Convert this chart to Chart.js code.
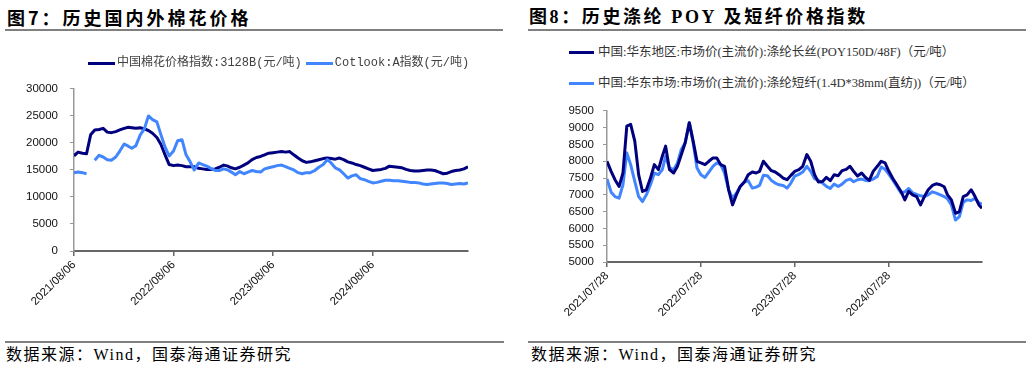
<!DOCTYPE html>
<html><head><meta charset="utf-8">
<script src="https://cdn.jsdelivr.net/npm/chart.js@4.4.1/dist/chart.umd.min.js"></script>
<style>
html,body{margin:0;padding:0;background:#fff;}
body{width:1032px;height:369px;position:relative;overflow:hidden;}
.title{position:absolute;top:5px;font-weight:700;font-size:18px;color:#000;white-space:nowrap;line-height:24px;}
.rule{position:absolute;height:2px;background:#808080;}
.src{position:absolute;top:346px;font-size:16px;letter-spacing:1.5px;color:#000;white-space:nowrap;font-family:"Liberation Serif","Noto Sans CJK SC";line-height:18px;}
canvas{position:absolute;}
.leg{position:absolute;white-space:nowrap;display:flex;align-items:center;height:16px;line-height:16px;}
.legA{font-family:"Liberation Mono","Noto Sans CJK SC";font-size:12px;color:#404040;}
.legB{font-family:"Liberation Serif","Noto Sans CJK SC";font-size:12.5px;color:#333;}
.sw{display:inline-block;height:3px;}
</style></head>
<body>
<div class="title" style="left:7px;font-family:'Noto Sans CJK SC';letter-spacing:3px">图7：历史国内外棉花价格</div>
<div class="rule" style="left:5px;top:29px;width:498px"></div>
<div class="title" style="left:529px;font-family:'Liberation Serif','Noto Sans CJK SC';letter-spacing:2.6px">图8：历史涤纶 POY 及短纤价格指数</div>
<div class="rule" style="left:528px;top:29px;width:498px"></div>
<div class="rule" style="left:5px;top:341px;width:499px"></div>
<div class="rule" style="left:528px;top:341px;width:498px"></div>
<div class="src" style="left:6px">数据来源：Wind，国泰海通证券研究</div>
<div class="src" style="left:531px">数据来源：Wind，国泰海通证券研究</div>
<canvas id="c1" width="516" height="262" style="left:0;top:70px;width:516px;height:262px"></canvas>
<canvas id="c2" width="516" height="240" style="left:516px;top:95px;width:516px;height:240px"></canvas>
<script>
// ---------- Chart 7: cotton ----------
const cottonDates = [
"2021/08/06","2021/08/21","2021/09/06","2021/09/21","2021/10/06","2021/10/21","2021/11/06","2021/11/21","2021/12/06","2021/12/21",
"2022/01/06","2022/01/21","2022/02/06","2022/02/21","2022/03/06","2022/03/21","2022/04/06","2022/04/21","2022/05/06","2022/05/21","2022/06/06","2022/06/21",
"2022/07/06","2022/07/21","2022/08/06","2022/08/21","2022/09/06","2022/09/21","2022/10/06","2022/10/21","2022/11/06","2022/11/21","2022/12/06","2022/12/21",
"2023/01/06","2023/01/21","2023/02/06","2023/02/21","2023/03/06","2023/03/21","2023/04/06","2023/04/21","2023/05/06","2023/05/21","2023/06/06","2023/06/21",
"2023/07/06","2023/07/21","2023/08/06","2023/08/21","2023/09/06","2023/09/21","2023/10/06","2023/10/21","2023/11/06","2023/11/21","2023/12/06","2023/12/21",
"2024/01/06","2024/01/21","2024/02/06","2024/02/21","2024/03/06","2024/03/21","2024/04/06","2024/04/21","2024/05/06","2024/05/21","2024/06/06","2024/06/21",
"2024/07/06","2024/07/21","2024/08/06","2024/08/21","2024/09/06","2024/09/21","2024/10/06","2024/10/21","2024/11/06","2024/11/21","2024/12/06","2024/12/21",
"2025/01/06","2025/01/21","2025/02/06","2025/02/21","2025/03/06","2025/03/21","2025/04/06","2025/04/21","2025/05/06","2025/05/21","2025/06/06","2025/06/21",
"2025/07/06","2025/07/21"];
const cottonChina3128B = [
17600,18300,18100,18000,21500,22400,22500,22700,22000,21900,
22100,22400,22700,22900,22800,22700,22800,22600,22300,21800,
21000,19700,17800,16000,15800,15900,15800,15600,15600,15600,
15300,15200,15100,15100,15200,15500,15900,15700,15400,15200,
15500,15900,16300,16900,17300,17500,17800,18100,18200,18300,
18400,18300,18400,17800,17200,16700,16400,16500,16700,16900,
17100,17200,17100,17000,17200,16900,16500,16300,16000,15800,
15500,15200,14900,15000,15100,15300,15700,15600,15500,15400,
15100,14900,14800,14800,14900,15000,15000,14900,14600,14300,
14400,14700,14900,15000,15200,15600];
const cottonCotlookA = [
14500,14600,14500,14300,null,16800,17700,17400,16900,16800,
17400,18500,19800,19400,19000,19500,21500,22600,25000,24300,
23900,21500,19200,17600,18500,20400,20600,17800,16500,15000,
16300,16000,15700,15300,14900,14900,15200,15000,14600,14100,
14700,14300,14600,14900,14700,14600,15200,15400,15600,15800,
15900,15600,15300,15000,14500,14300,14500,14500,14900,15500,
16000,16900,16300,15400,15000,14300,13500,13900,14100,13400,
13200,12900,12600,12700,12900,13100,13100,13000,13000,12900,
12800,12700,12700,12600,12400,12300,12400,12500,12600,12600,
12500,12300,12400,12500,12400,12600];
const cottonLabels = ["中国棉花价格指数:3128B(元/吨)","Cotlook:A指数(元/吨)"];
const cottonTickLabels = ["2021/08/06","2022/08/06","2023/08/06","2024/08/06"];
const cottonYRange = [0, 30000, 5000];

// ---------- Chart 8: polyester ----------
const polyDates = [
"2021/07/28","2021/08/13","2021/08/28","2021/09/13","2021/09/28","2021/10/13","2021/10/28","2021/11/13","2021/11/28","2021/12/13","2021/12/28",
"2022/01/13","2022/01/28","2022/02/13","2022/02/28","2022/03/13","2022/03/28","2022/04/13","2022/04/28","2022/05/13","2022/05/28","2022/06/13","2022/06/28",
"2022/07/13","2022/07/28","2022/08/13","2022/08/28","2022/09/13","2022/09/28","2022/10/13","2022/10/28","2022/11/13","2022/11/28","2022/12/13","2022/12/28",
"2023/01/13","2023/01/28","2023/02/13","2023/02/28","2023/03/13","2023/03/28","2023/04/13","2023/04/28","2023/05/13","2023/05/28","2023/06/13","2023/06/28",
"2023/07/13","2023/07/28","2023/08/13","2023/08/28","2023/09/13","2023/09/28","2023/10/13","2023/10/28","2023/11/13","2023/11/28","2023/12/13","2023/12/28",
"2024/01/13","2024/01/28","2024/02/13","2024/02/28","2024/03/13","2024/03/28","2024/04/13","2024/04/28","2024/05/13","2024/05/28","2024/06/13","2024/06/28",
"2024/07/13","2024/07/28","2024/08/13","2024/08/28","2024/09/13","2024/09/28","2024/10/13","2024/10/28","2024/11/13","2024/11/28","2024/12/13","2024/12/28",
"2025/01/13","2025/01/28","2025/02/13","2025/02/28","2025/03/13","2025/03/28","2025/04/13","2025/04/28","2025/05/13","2025/05/28","2025/06/13","2025/06/28",
"2025/07/13","2025/07/25"];
const polyPOY = [
8000,7700,7450,7250,7650,9050,9100,8600,7600,7100,7150,
7500,7900,7750,8150,8450,7750,7650,7850,8200,8550,9150,8600,
8000,7950,7900,8000,8100,8100,7900,7850,7150,6700,7000,7250,
7380,7600,7680,7650,7700,8000,7850,7720,7680,7600,7500,7450,
7580,7700,7750,7850,8200,8000,7600,7380,7400,7520,7420,7600,
7570,7720,7760,7850,7700,7560,7650,7520,7430,7700,7850,8000,
7950,7700,7480,7300,7100,6850,7100,7000,6950,6700,6950,7150,
7280,7330,7300,7240,7000,6850,6450,6500,6950,7000,7150,6950,
6700,6600];
const polyPSF = [
7470,7080,6950,6900,7300,8250,7900,7400,6950,6800,7000,
7300,7650,7600,7750,8150,7800,7750,7950,8350,8550,9150,8550,
7800,7600,7520,7680,7850,7950,7900,7650,7150,6900,7050,7250,
7380,7420,7200,7230,7280,7580,7570,7430,7350,7300,7280,7200,
7350,7560,7610,7680,7850,7700,7480,7430,7350,7250,7190,7320,
7250,7320,7430,7470,7390,7450,7470,7430,7420,7470,7550,7830,
7760,7610,7430,7250,7060,7090,7190,7060,7010,6970,6950,7000,
7090,7050,7000,6950,6880,6700,6250,6350,6780,6850,6830,6900,
6760,6720];
const polyLabels = ["中国:华东地区:市场价(主流价):涤纶长丝(POY150D/48F)（元/吨）",
                    "中国:华东市场:市场价(主流价):涤纶短纤(1.4D*38mm(直纺))（元/吨）"];
const polyTickLabels = ["2021/07/28","2022/07/28","2023/07/28","2024/07/28"];
const polyYRange = [5000, 9500, 500];

const DARK = '#00007f', LIGHT = '#4286ff';

Chart.defaults.font.family = "'Liberation Sans', Arial, sans-serif";

function dayNum(s){const p=s.split('/').map(Number);return Date.UTC(p[0],p[1]-1,p[2])/864e5;}

function build(id, dates, sets, tickLabels, yr, g){
  const d0 = dayNum(dates[0]);
  const xs = dates.map(s => dayNum(s) - d0);
  const tickDays = tickLabels.map(s => dayNum(s) - d0);
  return new Chart(document.getElementById(id), {
    type:'line',
    data:{datasets: sets.map(s => ({
      label:s.label, data:s.values.map((v,i)=>({x:xs[i], y:v})),
      borderColor:s.color, backgroundColor:s.color, borderWidth:3, pointRadius:0,
      tension:0, spanGaps:false, order:s.order, borderJoinStyle:'round', borderCapStyle:'butt'
    }))},
    options:{
      responsive:false, animation:false, devicePixelRatio:1, events:[],
      layout:{padding:{top:g.padTop, right:g.padRight, left:0, bottom:0}},
      plugins:{legend:{display:false}, tooltip:{enabled:false}},
      scales:{
        x:{type:'linear', min:0, max:xs[xs.length-1],
           afterBuildTicks:s=>{s.ticks = tickDays.map(v=>({value:v}));},
           afterFit:s=>{s.height = g.xH;},
           ticks:{autoSkip:false, minRotation:45, maxRotation:45, padding:g.xPad, color:'#111', font:{size:11.5},
                  callback:v=>{const i = tickDays.indexOf(v); return i>=0 ? tickLabels[i] : '';}},
           grid:{drawOnChartArea:false, drawTicks:true, tickLength:5, color:'#666', lineWidth:1.5},
           border:{display:true, color:'#666', width:2}},
        y:{type:'linear', min:yr[0], max:yr[1],
           afterFit:s=>{s.width = g.yW;},
           ticks:{autoSkip:false, stepSize:yr[2], padding:g.yPad, color:'#111', font:{size:11.5}, callback:v=>String(v)},
           grid:{drawOnChartArea:false, drawTicks:true, tickLength:4, color:'#999', lineWidth:1},
           border:{display:true, color:'#999', width:1.5}}
      }
    }
  });
}

const chart1 = build('c1', cottonDates, [
  {label:cottonLabels[0], values:cottonChina3128B, color:DARK, order:1},
  {label:cottonLabels[1], values:cottonCotlookA, color:LIGHT, order:0}
], cottonTickLabels, cottonYRange, {padTop:8, padRight:48, xH:81, yW:74, xPad:2, yPad:12});

const chart2 = build('c2', polyDates, [
  {label:polyLabels[0], values:polyPOY, color:DARK, order:0},
  {label:polyLabels[1], values:polyPSF, color:LIGHT, order:1}
], polyTickLabels, polyYRange, {padTop:8, padRight:50, xH:73, yW:91, xPad:2, yPad:9});

function addLegend(chart, rows, cls){
  rows.forEach(r=>{
    const row = document.createElement('div');
    row.className = 'leg ' + cls;
    row.style.left = r.left + 'px'; row.style.top = r.top + 'px';
    r.items.forEach(i=>{
      const ds = chart.data.datasets[i];
      const sw = document.createElement('span');
      sw.className = 'sw'; sw.style.background = ds.borderColor; sw.style.width = r.sw + 'px'; sw.style.marginRight = r.tg + 'px';
      const tx = document.createElement('span');
      tx.textContent = ds.label; tx.style.marginRight = r.gap + 'px';
      row.append(sw, tx);
    });
    document.body.appendChild(row);
  });
}
addLegend(chart1, [{left:88, top:55, items:[0,1], sw:27, tg:2, gap:4}], 'legA');
addLegend(chart2, [{left:569, top:44, items:[0], sw:25, tg:4, gap:0},
                   {left:569, top:75, items:[1], sw:25, tg:4, gap:0}], 'legB');
</script>
</body></html>
